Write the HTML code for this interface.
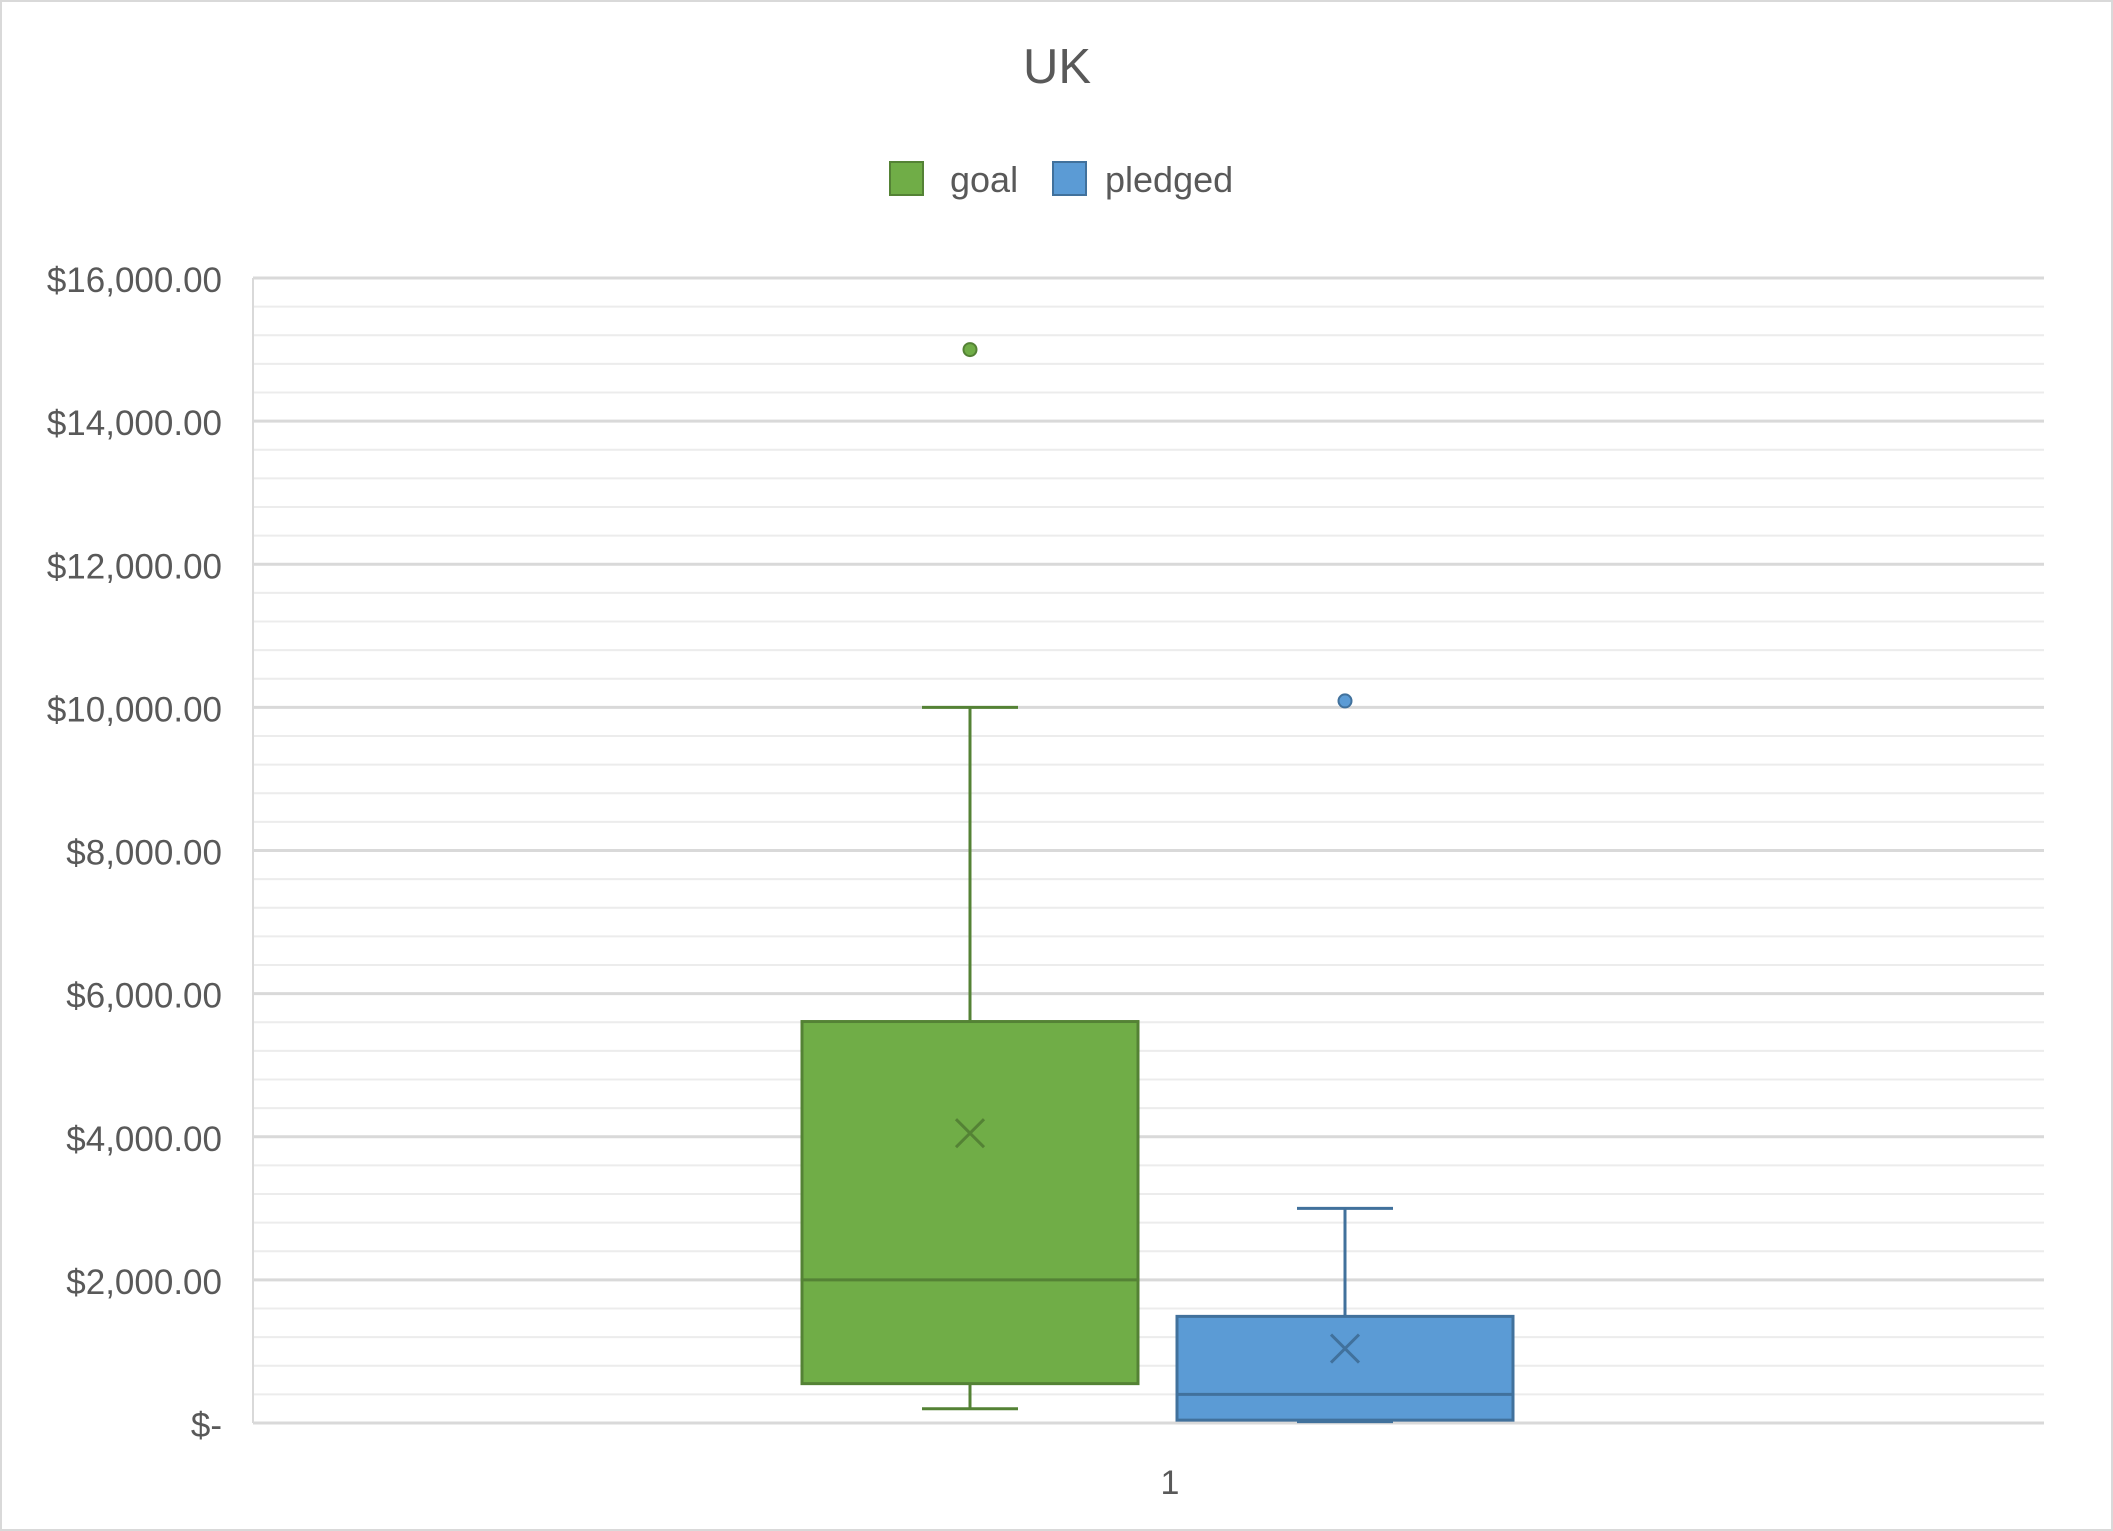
<!DOCTYPE html>
<html><head><meta charset="utf-8"><style>
html,body{margin:0;padding:0;background:#fff;}
svg{display:block;font-family:"Liberation Sans",sans-serif;}
</style></head><body>
<svg id="chart" width="2113" height="1531" viewBox="0 0 2113 1531">
<rect x="1" y="1" width="2111" height="1529" fill="#fff" stroke="#d9d9d9" stroke-width="2"/>
<text x="1057" y="83" font-size="49" fill="#595959" text-anchor="middle">UK</text>
<g>
<g><rect x="890" y="162" width="33" height="33" fill="#70ad47" stroke="#548235" stroke-width="2"/><text x="950" y="192" font-size="36" fill="#595959">goal</text></g>
<g><rect x="1053" y="162" width="33" height="33" fill="#5b9bd5" stroke="#41719c" stroke-width="2"/><text x="1105" y="192" font-size="36" fill="#595959">pledged</text></g>
</g>
<g id="grid"></g><g id="yaxis"></g><g id="marks"></g>
<text x="1170" y="1494" font-size="34" fill="#595959" text-anchor="middle">1</text>
</svg>
<script>
const yTicks=[0,2000,4000,6000,8000,10000,12000,14000,16000];
const yTickLabels=["$-","$2,000.00","$4,000.00","$6,000.00","$8,000.00","$10,000.00","$12,000.00","$14,000.00","$16,000.00"];
const seriesNames=["goal","pledged"];
const whiskerLow=[200,20];
const q1=[550,40];
const medians=[2000,400];
const q3=[5610,1490];
const whiskerHigh=[10000,3000];
const means=[4050,1040];
const outliers=[[15000],[10090]];

const L=253,R=2044,T=278,B=1423,YMAX=16000;
const y=v=>B-(v/YMAX)*(B-T);
const centers=[970,1345],halfW=168,capW=48;
const fills=["#70ad47","#5b9bd5"],strokes=["#548235","#41719c"];
const NS="http://www.w3.org/2000/svg";
function mk(p,tag,attrs){const e=document.createElementNS(NS,tag);for(const k in attrs)e.setAttribute(k,attrs[k]);p.appendChild(e);return e;}
const grid=document.getElementById('grid'),ya=document.getElementById('yaxis'),marks=document.getElementById('marks');
for(let v=0;v<=YMAX;v+=400){
  const major=v%2000===0;
  const ln=mk(grid,'line',{x1:L,x2:R,y1:y(v),y2:y(v),stroke:major?"#d9d9d9":"#ececec","stroke-width":major?3:2});
  
  
}
mk(grid,'line',{x1:L,x2:L,y1:T,y2:B,stroke:"#d9d9d9","stroke-width":2});
yTicks.forEach((v,i)=>{
  const t=mk(ya,'text',{x:222,y:y(v)+14,"font-size":35,fill:"#595959","text-anchor":"end"});
  t.textContent=yTickLabels[i];
  
  
});
seriesNames.forEach((n,i)=>{
  const cx=centers[i],s=strokes[i];
  const g=mk(marks,'g',{});
  
  
  mk(g,'line',{x1:cx,x2:cx,y1:y(whiskerHigh[i]),y2:y(q3[i]),stroke:s,"stroke-width":3});
  mk(g,'line',{x1:cx,x2:cx,y1:y(q1[i]),y2:y(whiskerLow[i]),stroke:s,"stroke-width":3});
  mk(g,'line',{x1:cx-capW,x2:cx+capW,y1:y(whiskerHigh[i]),y2:y(whiskerHigh[i]),stroke:s,"stroke-width":3});
  mk(g,'line',{x1:cx-capW,x2:cx+capW,y1:y(whiskerLow[i]),y2:y(whiskerLow[i]),stroke:s,"stroke-width":3});
  mk(g,'rect',{x:cx-halfW,y:y(q3[i]),width:2*halfW,height:y(q1[i])-y(q3[i]),fill:fills[i],stroke:s,"stroke-width":3});
  mk(g,'line',{x1:cx-halfW,x2:cx+halfW,y1:y(medians[i]),y2:y(medians[i]),stroke:s,"stroke-width":3});
  const my=y(means[i]);
  mk(g,'path',{d:`M${cx-14} ${my-14}L${cx+14} ${my+14}M${cx+14} ${my-14}L${cx-14} ${my+14}`,stroke:s,"stroke-width":3,fill:"none"});
  outliers[i].forEach(o=>{
    const c=mk(g,'circle',{cx:cx,cy:y(o),r:6.5,fill:fills[i],stroke:s,"stroke-width":2});
    
    
  });
});
</script>
</body></html>
